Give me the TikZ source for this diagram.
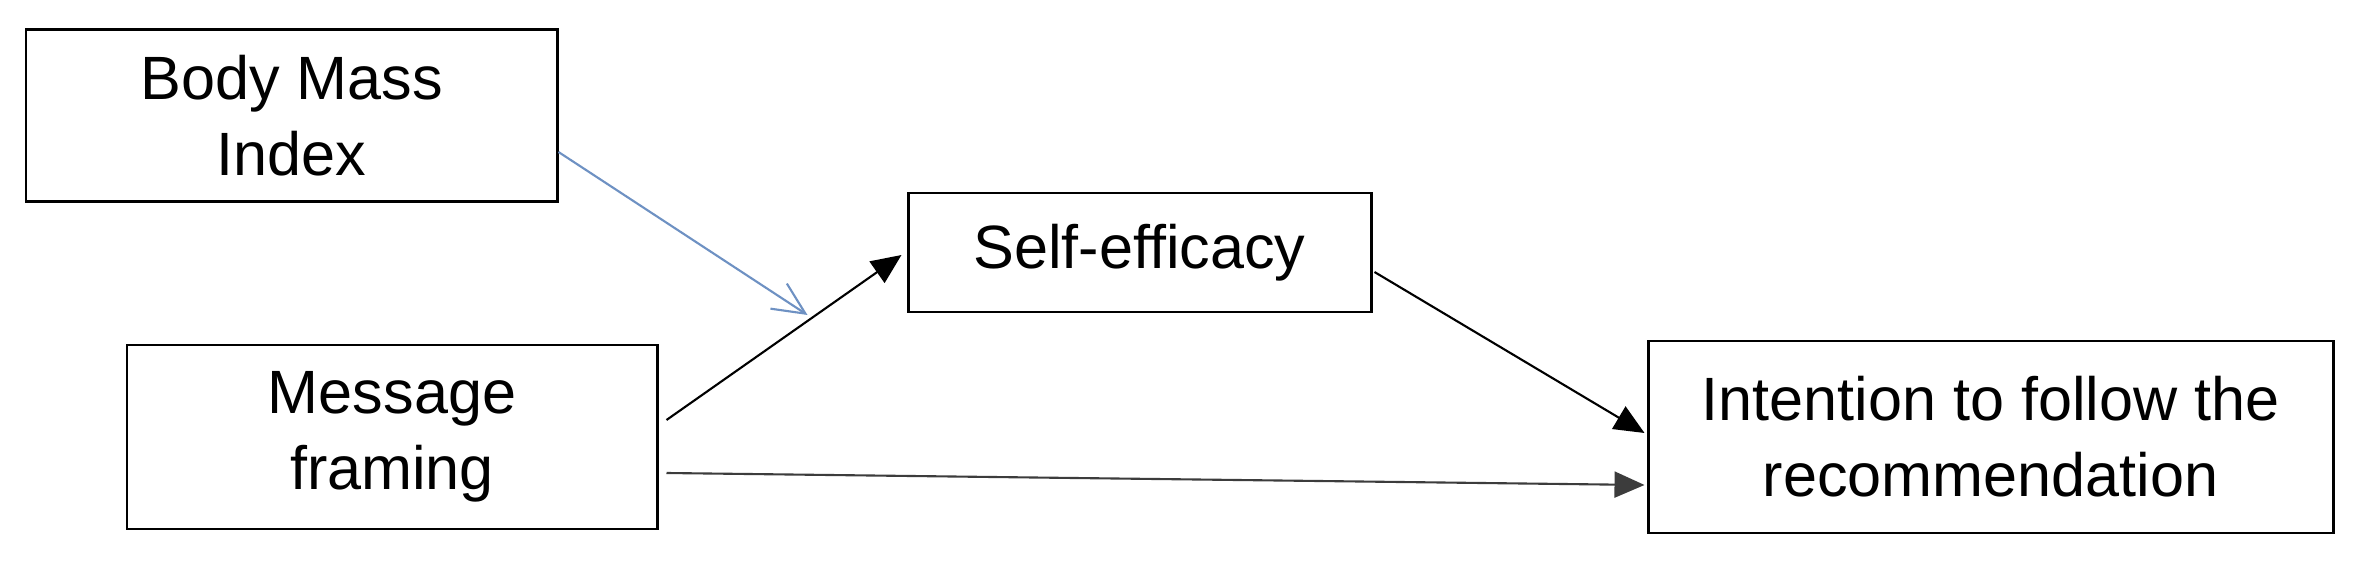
\documentclass[tikz,border=0pt]{standalone}
\usepackage{fontspec}
\setmainfont{Liberation Sans}
\usetikzlibrary{arrows.meta,calc}
\definecolor{modblue}{RGB}{110,145,195}
\definecolor{pathgray}{RGB}{60,60,60}
\tikzset{
  box/.style={draw=black, line width=0.85pt, fill=white, align=center, inner sep=0pt,
              font=\fontsize{17.4}{21.6}\selectfont},
  path/.style={draw=black, line width=0.6pt, -{Triangle[length=0.3cm,width=0.26cm]}},
  modpath/.style={draw=modblue, line width=0.6pt, -{Straight Barb[length=0.32cm,width=0.3cm,line width=0.6pt]}}
}
\begin{document}
\begin{tikzpicture}
\useasboundingbox[fill=white] (0,0) rectangle (23.64,5.63);
\node[box, minimum width=5.31cm, minimum height=1.72cm] (bmi) at (2.915,4.47) {Body Mass\\Index};
\node[box, minimum width=5.30cm, minimum height=1.84cm] (mf) at (3.92,1.26) {Message\\framing};
\node[box, minimum width=4.63cm, minimum height=1.19cm] (se) at (11.395,3.105) {Self-efficacy};
\node[box, minimum width=6.85cm, minimum height=1.92cm] (int) at (19.905,1.26) {Intention to follow the\\recommendation};
\coordinate (a1s) at ($(mf.east)+(0.08,0.17)$);
\coordinate (a1e) at ($(se.west)+(-0.05,-0.025)$);
\coordinate (mid) at ($(a1s)!0.6!(a1e)$);
\draw[path] (a1s) -- (a1e);
\draw[path] ($(se.east)+(0.02,-0.195)$) -- ($(int.west)+(-0.02,0.04)$);
\draw[path, draw=pathgray] ($(mf.east)+(0.08,-0.36)$) -- ($(int.west)+(-0.02,-0.48)$);
\draw[modpath] ($(bmi.east)+(0,-0.36)$) -- ($(mid)+(0,0.06)$);
\end{tikzpicture}
\end{document}
